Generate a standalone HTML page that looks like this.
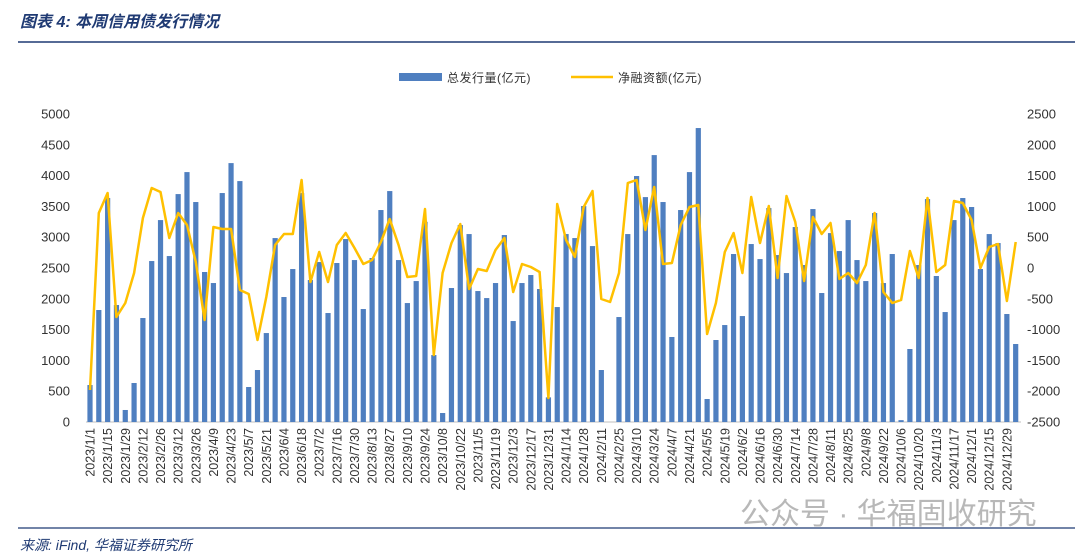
<!DOCTYPE html>
<html><head><meta charset="utf-8"><style>
html,body{margin:0;padding:0;background:#fff;width:1080px;height:557px;overflow:hidden}
svg{display:block}
text{font-family:"Liberation Sans","Noto Sans CJK SC",sans-serif}
</style></head><body>
<svg id="c" width="1080" height="557" xmlns="http://www.w3.org/2000/svg">
<text x="20" y="27" font-size="16" font-style="italic" font-weight="bold" fill="#1f3a73">图表 4:  本周信用债发行情况</text>
<line x1="18" y1="42" x2="1075" y2="42" stroke="#1f3a73" stroke-width="1.5"/>
<rect x="399" y="73" width="43" height="8" fill="#4f7fc0"/>
<text x="447" y="82" font-size="12" fill="#333" letter-spacing="0.5">总发行量(亿元)</text>
<line x1="571" y1="77" x2="613" y2="77" stroke="#ffc000" stroke-width="2.5"/>
<text x="618" y="82" font-size="12" fill="#333" letter-spacing="0.5">净融资额(亿元)</text>
<g id="g"></g>
<text x="740" y="524" font-size="30" fill="#b8b8b8">公众号 · 华福固收研究</text>
<line x1="18" y1="528" x2="1075" y2="528" stroke="#1f3a73" stroke-width="1.2"/>
<text x="20" y="550" font-size="14" font-style="italic" fill="#1f3a73">来源: iFind, 华福证券研究所</text>
</svg>
<script>
var bars=[600,1818,3636,1899,195,633,1688,2613,3278,2694,3700,4057,3571,2435,2256,3717,4203,3911,568,844,1444,2986,2029,2483,3717,2305,2597,1769,2581,2970,2629,1834,2662,3441,3749,2629,
1931,2288,3250,1087,146,2175,3197,3051,2126,2012,2256,3035,1639,2256,2386,2159,400,1866,3051,2986,3506,2856,844,0,1704,3051,3993,3651,4333,3571,1380,3441,4057,4772,
373,1331,1574,2727,1720,2889,2645,3473,2710,2418,3165,2548,3457,2094,3067,2775,3278,2629,2288,3392,2256,2727,30,1185,2548,3619,2370,1785,3278,3636,3490,2483,3051,2905,1753,1266];
var line=[-1980,893,1217,-795,-568,-81,811,1298,1234,487,893,698,97,-844,665,633,633,-357,-422,-1169,-471,373,552,552,1428,-227,260,-227,373,568,325,65,130,422,795,370,
-146,-130,958,-1412,-81,406,714,-341,-16,-49,292,487,-389,65,16,-65,-2110,1039,454,179,990,1250,-503,-552,-81,1380,1428,617,1315,65,81,698,990,1022,
-1071,-568,260,568,-81,1152,406,1006,-162,1169,747,-211,828,552,730,-178,-81,-243,49,893,-389,-568,-519,276,-162,1136,-65,49,1087,1055,779,0,341,389,-535,422];
var s='',X=function(i){return 90+8.816*i;};
var Y0=422,H=308;
for(var v=0;v<=5000;v+=500){var y=Y0-v/5000*H;s+='<text x="70" y="'+(y+4.5)+'" font-size="13" fill="#333" text-anchor="end">'+v+'</text>';}
for(var v=-2500;v<=2500;v+=500){var y=268-v/5000*H;s+='<text x="1027" y="'+(y+4.5)+'" font-size="13" fill="#333">'+v+'</text>';}
s+='<line x1="86" y1="422" x2="1021" y2="422" stroke="#bfbfbf" stroke-width="1"/>';
for(var i=0;i<bars.length;i++){var h=bars[i]/5000*H;if(h>0)s+='<rect x="'+(X(i)-2.6)+'" y="'+(Y0-h)+'" width="5.2" height="'+h+'" fill="#4f7fc0"/>';}
var p='';for(var i=0;i<line.length;i++){p+=(i?'L':'M')+X(i).toFixed(1)+' '+(268-line[i]/5000*H).toFixed(1);}
s+='<path d="'+p+'" fill="none" stroke="#ffc000" stroke-width="2.5" stroke-linejoin="round"/>';
var d=new Date(2023,0,1);
for(var i=0;i<105;i+=2){var dd=new Date(d.getTime()+i*7*86400000+3600000);var lab=dd.getFullYear()+'/'+(dd.getMonth()+1)+'/'+dd.getDate();
s+='<text transform="translate('+(X(i)+4.5)+',428) rotate(-90)" font-size="12.5" fill="#333" text-anchor="end">'+lab+'</text>';}
document.getElementById('g').innerHTML=s;
</script>
</body></html>
